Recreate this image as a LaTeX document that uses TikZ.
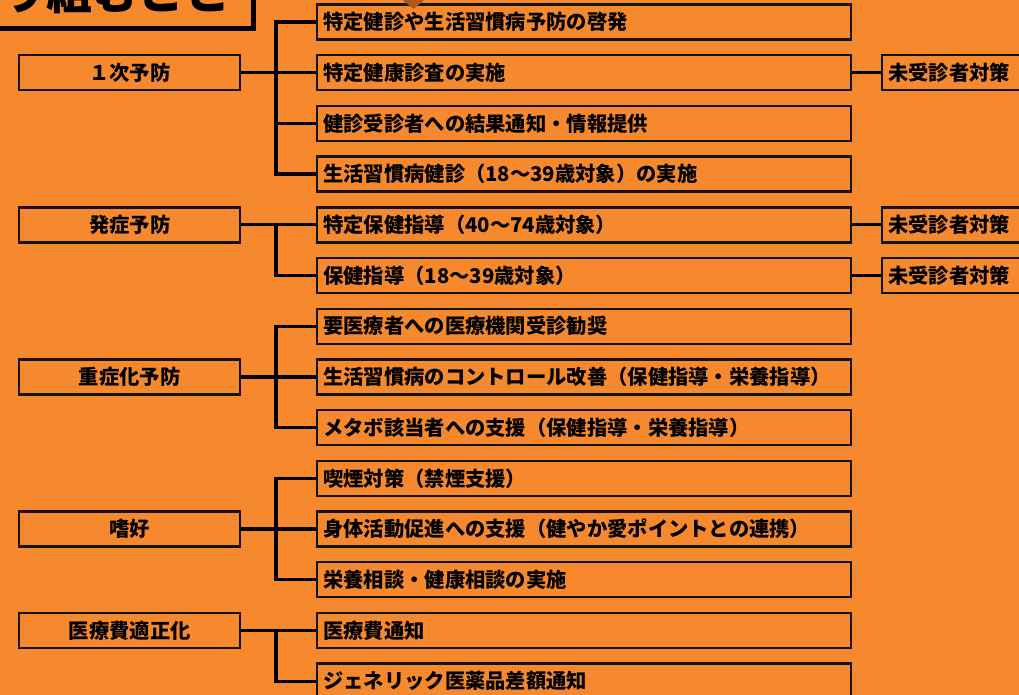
\documentclass[tikz,border=0pt]{standalone}
\usepackage{fontspec}
\setmainfont{Noto Sans CJK JP}
\definecolor{bg}{RGB}{246,137,46}
\definecolor{tip}{RGB}{178,86,24}
\begin{document}
\begin{tikzpicture}[x=1pt,y=-1pt,
  box/.style={draw=black!92, line width=2.4pt, fill=bg, minimum height=35pt, inner sep=0pt,
    font=\bfseries\fontsize{20.3}{21}\selectfont},
  item/.style={box, anchor=west, text width=522pt, inner xsep=6pt, align=left},
  cat/.style={box, anchor=west, minimum width=221pt, align=center},
  side/.style={box, anchor=west, text width=150pt, inner xsep=6pt, align=left},
  conn/.style={line width=3.2pt, black}]
\useasboundingbox (0,0) rectangle (1019,695);
\clip (0,0) rectangle (1019,695);
\fill[bg] (0,0) rectangle (1019,695);

% title box (cut off)
\draw[line width=5pt, black] (-20,-80) rectangle (253.5,28.5);
\node[anchor=base east, inner sep=0pt, font=\bfseries\fontsize{46}{46}\selectfont] (title) at (231,10) {り組むこと};

% items
\node[item] (i1)  at (316,22.0)  {特定健診や生活習慣病予防の啓発};
\node[item] (i2)  at (316,72.7)  {特定健康診査の実施};
\node[item] (i3)  at (316,123.4) {健診受診者への結果通知・情報提供};
\node[item] (i4)  at (316,174.1) {生活習慣病健診（18～39歳対象）の実施};
\node[item] (i5)  at (316,224.8) {特定保健指導（40～74歳対象）};
\node[item] (i6)  at (316,275.5) {保健指導（18～39歳対象）};
\node[item] (i7)  at (316,326.2) {要医療者への医療機関受診勧奨};
\node[item] (i8)  at (316,376.9) {生活習慣病のコントロール改善（保健指導・栄養指導）};
\node[item] (i9)  at (316,427.6) {メタボ該当者への支援（保健指導・栄養指導）};
\node[item] (i10) at (316,478.3) {喫煙対策（禁煙支援）};
\node[item] (i11) at (316,529.0) {身体活動促進への支援（健やか愛ポイントとの連携）};
\node[item] (i12) at (316,579.7) {栄養相談・健康相談の実施};
\node[item] (i13) at (316,630.4) {医療費通知};
\node[item] (i14) at (316,681.1) {ジェネリック医薬品差額通知};

% categories
\node[cat] (c1) at (18,72.7)  {１次予防};
\node[cat] (c2) at (18,224.8) {発症予防};
\node[cat] (c3) at (18,376.9) {重症化予防};
\node[cat] (c4) at (18,529.0) {嗜好};
\node[cat] (c5) at (18,630.4) {医療費適正化};

% side boxes
\node[side] (s1) at (881,72.7)  {未受診者対策};
\node[side] (s2) at (881,224.8) {未受診者対策};
\node[side] (s3) at (881,275.5) {未受診者対策};

\coordinate (j) at (276,0);

% connectors
\draw[conn] (c1.east) -- (i2.west);
\draw[conn] (i1.west) -| (j |- i4.west) -- (i4.west);
\draw[conn] (j |- i3.west) -- (i3.west);

\draw[conn] (c2.east) -- (i5.west);
\draw[conn] (j |- i5.west) |- (i6.west);

\draw[conn] (c3.east) -- (i8.west);
\draw[conn] (i7.west) -| (j |- i9.west) -- (i9.west);

\draw[conn] (c4.east) -- (i11.west);
\draw[conn] (i10.west) -| (j |- i12.west) -- (i12.west);

\draw[conn] (c5.east) -- (i13.west);
\draw[conn] (j |- i13.west) |- (i14.west);

\draw[conn] (i2.east) -- (s1.west);
\draw[conn] (i5.east) -- (s2.west);
\draw[conn] (i6.east) -- (s3.west);

% arrow tip at top
\fill[tip] (399,-3) -- (428,-3) -- (413.5,9) -- cycle;
\end{tikzpicture}
\end{document}
